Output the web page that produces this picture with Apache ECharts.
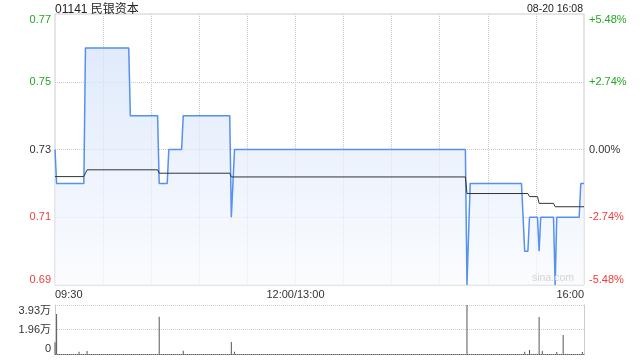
<!DOCTYPE html>
<html>
<head>
<meta charset="utf-8">
<script src="https://cdn.jsdelivr.net/npm/echarts@6/dist/echarts.min.js"></script>
<style>html,body{margin:0;padding:0;background:#fff;}#c{width:640px;height:360px;}</style>
</head>
<body>
<div id="c"></div>
<script>
// ---- data ----
const titleText = '01141 民银资本';
const dateText = '08-20 16:08';
const prevClose = 0.73;
// price line breakpoints (minutes after 09:30, trading-minute scale; 150 = 12:00/13:00)
const priceMin = [0,1,18,19,46,47,64,65,70,71,79,80,109,110,112,256,257,259,291,293,295,296,301,302,303,311,312,313,327,328,330];
const priceVal = [0.73,0.72,0.72,0.76,0.76,0.74,0.74,0.72,0.72,0.73,0.73,0.74,0.74,0.71,0.73,0.73,0.69,0.72,0.72,0.70,0.70,0.71,0.71,0.70,0.71,0.71,0.69,0.71,0.71,0.72,0.72];
// average price line breakpoints
const avgMin = [0,18,20,64,65,109,110,256,257,295,296,301,302,311,312,330];
const avgVal = [0.722,0.722,0.724,0.724,0.723,0.723,0.7219,0.7219,0.717,0.717,0.7161,0.7161,0.7141,0.7141,0.7131,0.7131];
// volume (万)
const volMin = [0,1,15,20,65,80,110,112,257,293,296,302,304,313,317,329];
const volVal = [0.94,3.21,0.18,0.24,2.99,0.27,0.96,0.18,3.93,0.18,0.32,2.97,0.24,0.16,1.52,0.16];
// tick labels
const priceTicks = ['0.69','0.71','0.73','0.75','0.77'];
const pctTicks = ['-5.48%','-2.74%','0.00%','+2.74%','+5.48%'];
const volTicks = ['0','1.96万','3.93万'];
const timeTickMin = [0,150,330];
const timeTickText = ['09:30','12:00/13:00','16:00'];

const GREEN = '#22a722', RED = '#f03c3c', DARK = '#333';
const FONT = '"Liberation Sans", Arial, "Noto Sans CJK SC", sans-serif';

const chart = echarts.init(document.getElementById('c'), null, {renderer:'canvas'});
const zip = (a,b) => a.map((v,i)=>[v,b[i]]);
const dotted = {color:'#cccccc', type:[1,1], width:1};

const option = {
  animation: false,
  textStyle: {fontFamily: FONT},
  grid: [
    {left:55, right:56, top:14, height:271, show:true, borderColor:'#cccccc', borderWidth:1, backgroundColor:'transparent'},
    {left:55, right:56, top:305, height:49}
  ],
  graphic: [
    {type:'text', left:55, top:4, style:{text:titleText, fontSize:12, fill:'#222', fontFamily:FONT}},
    {type:'text', right:57, top:4, style:{text:dateText, fontSize:10.5, fill:'#222', fontFamily:FONT}},
    {type:'text', left:532, top:273, z:10, style:{text:'sina.com', fontSize:10.5, fill:'#d4d4d4', fontFamily:FONT}}
  ],
  xAxis: [
    {type:'value', gridIndex:0, min:0, max:330, interval:30,
     axisLine:{show:false}, axisTick:{show:false},
     splitLine:{show:true, showMinLine:false, showMaxLine:false, lineStyle:dotted},
     axisLabel:{show:true, margin:4, fontSize:11, color:DARK, showMinLabel:true, showMaxLabel:true,
       alignMinLabel:'left', alignMaxLabel:'right',
       formatter:(v)=>{const k=timeTickMin.indexOf(Math.round(v)); return k>=0?timeTickText[k]:'';}}},
    {type:'value', gridIndex:1, min:0, max:330, interval:30,
     axisLine:{show:true, onZero:false, lineStyle:{color:'#666', type:[1,1], width:1}},
     axisTick:{show:false}, axisLabel:{show:false}, splitLine:{show:false}}
  ],
  yAxis: [
    {type:'value', gridIndex:0, min:0.69, max:0.77, interval:0.02,
     axisLine:{show:false}, axisTick:{show:false},
     splitLine:{show:true, showMinLine:false, showMaxLine:false, lineStyle:dotted},
     axisLabel:{margin:4, fontSize:11, showMinLabel:true, showMaxLabel:true,
       verticalAlignMinLabel:'bottom', verticalAlignMaxLabel:'top',
       formatter:(v,i)=>priceTicks[i],
       color:(v,i)=>{const p=parseFloat(v); return p>prevClose+1e-6?GREEN:(p<prevClose-1e-6?RED:DARK);}}},
    {type:'value', gridIndex:0, position:'right', min:-5.48, max:5.48, interval:2.74,
     axisLine:{show:false}, axisTick:{show:false}, splitLine:{show:false},
     axisLabel:{margin:5, fontSize:11, showMinLabel:true, showMaxLabel:true,
       verticalAlignMinLabel:'bottom', verticalAlignMaxLabel:'top',
       formatter:(v,i)=>pctTicks[i],
       color:(v,i)=>{const p=parseFloat(v); return p>1e-6?GREEN:(p<-1e-6?RED:DARK);}}},
    {type:'value', gridIndex:1, min:0, max:3.93, interval:1.965,
     axisLine:{show:true, lineStyle:{color:'#cccccc'}}, axisTick:{show:false},
     splitLine:{show:true, showMinLine:false, showMaxLine:true, lineStyle:dotted},
     axisLabel:{margin:4, fontSize:11, color:DARK, showMinLabel:true, showMaxLabel:true,
       verticalAlignMinLabel:'bottom', verticalAlignMaxLabel:'top',
       formatter:(v,i)=>volTicks[i]}},
    {type:'value', gridIndex:1, position:'right', min:0, max:3.93,
     axisLine:{show:true, lineStyle:{color:'#cccccc'}}, axisTick:{show:false},
     axisLabel:{show:false}, splitLine:{show:false}}
  ],
  series: [
    {type:'line', xAxisIndex:0, yAxisIndex:0, data:zip(priceMin, priceVal),
     showSymbol:false, symbol:'none', z:3,
     lineStyle:{color:'#5590f2', width:1.5},
     areaStyle:{origin:'start', color:new echarts.graphic.LinearGradient(0,0,0,1,[
       {offset:0, color:'#d2e1f9'}, {offset:1, color:'#f8fafe'}])}},
    {type:'line', xAxisIndex:0, yAxisIndex:0, data:zip(avgMin, avgVal),
     showSymbol:false, symbol:'none', z:4,
     lineStyle:{color:'#333333', width:1}},
    {type:'bar', xAxisIndex:1, yAxisIndex:2, data:zip(volMin, volVal),
     barWidth:1, itemStyle:{color:'#555555'}}
  ]
};
chart.setOption(option);
</script>
</body>
</html>
